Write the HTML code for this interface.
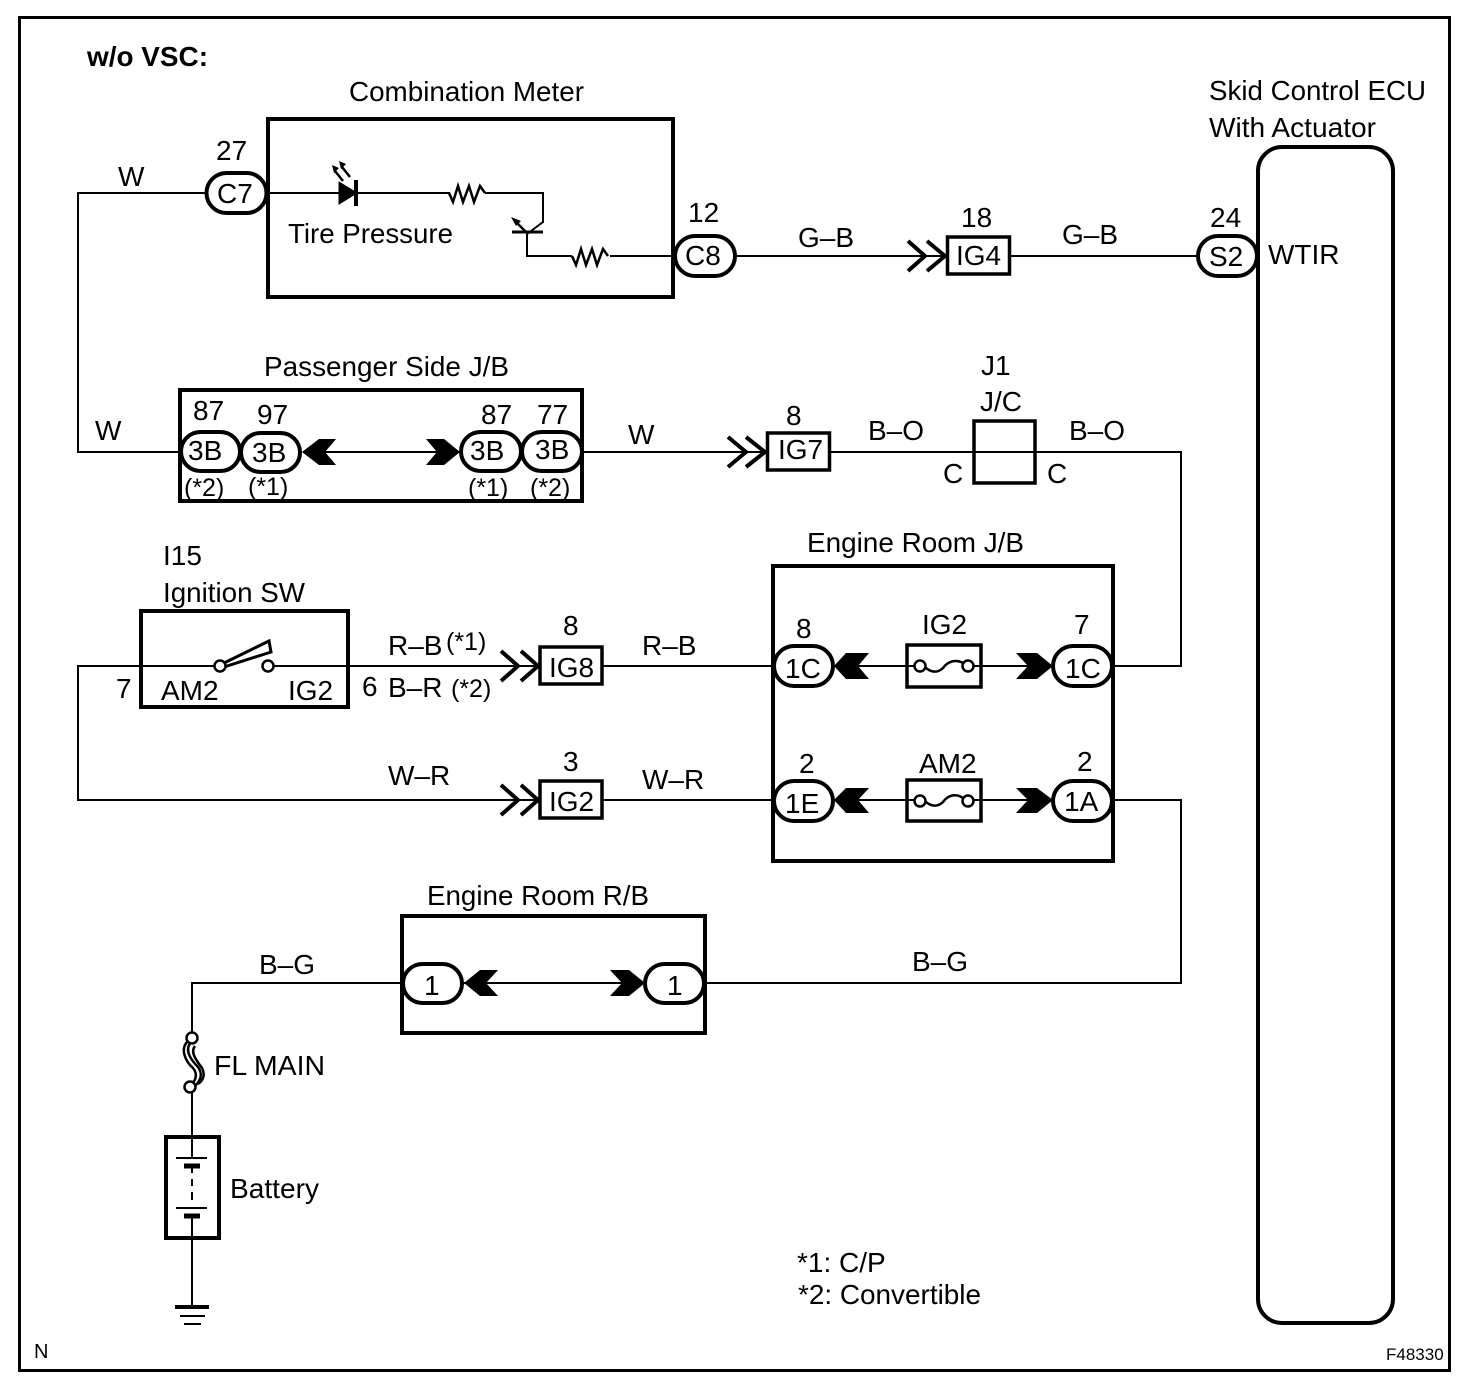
<!DOCTYPE html>
<html><head><meta charset="utf-8"><style>
html,body{margin:0;padding:0;background:#fff}
svg{display:block}
text{font-family:"Liberation Sans",Arial,sans-serif;font-size:28px;fill:#000}
.s{font-size:25px}
.t{font-size:17px}
.l{fill:none;stroke:#000;stroke-width:2}
.b{fill:none;stroke:#000;stroke-width:4}
.p{fill:#fff;stroke:#000;stroke-width:4}
.c{fill:#fff;stroke:#000;stroke-width:2.500}
.a{fill:none;stroke:#000;stroke-width:4}
.w{fill:none;stroke:#000;stroke-width:2.500}
</style></head><body>
<svg width="1472" height="1394" viewBox="0 0 1472 1394" xmlns="http://www.w3.org/2000/svg">
<rect x="0" y="0" width="1472" height="1394" fill="#fff"/>
<rect x="19.500" y="17.500" width="1430" height="1353" class="b" style="stroke-width:3"/>

<!-- wires -->
<path class="l" d="M206 193H78V452H180"/>
<path class="l" d="M267 193H450M485 193H543V222L527 234V256H572M610 256H675"/>
<path class="l" d="M735 256H947M1010 256H1198"/>
<path class="l" d="M582 452H766M830 452H974M1036 452H1181V666H1112"/>
<path class="l" d="M240 452H300M325 452H460"/>
<path class="l" d="M348 666H540M602 666H774"/>
<path class="l" d="M140 666H78V800H540M602 800H774"/>
<path class="l" d="M78 666H215M273 666H348"/>
<path class="l" d="M832 666H1053M832 800H1053"/>
<path class="l" d="M1112 800H1181V983H705"/>
<path class="l" d="M402 983H192V1035M192 1092V1157M192 1168V1173M192 1179V1186M192 1192V1200M192 1218V1305"/>
<path class="l" d="M462 983H645"/>

<!-- boxes -->
<rect x="268" y="119" width="405" height="178" class="b"/>
<rect x="180" y="390" width="402" height="111" class="b"/>
<rect x="141" y="611" width="207" height="96" class="b"/>
<rect x="773" y="566" width="340" height="295" class="b"/>
<rect x="402" y="916" width="303" height="117" class="b"/>
<rect x="166" y="1137" width="53" height="101" class="b"/>
<rect x="1258" y="147" width="135" height="1176" rx="24" class="b"/>

<rect x="947.500" y="237" width="62" height="37" class="p" style="stroke-width:3.500"/>
<rect x="767.500" y="433" width="62" height="37" class="p" style="stroke-width:3.500"/>
<rect x="540" y="647" width="62" height="37" class="p" style="stroke-width:3.500"/>
<rect x="540" y="781" width="62" height="37" class="p" style="stroke-width:3.500"/>
<rect x="974" y="421" width="61" height="62" class="b" style="stroke-width:3.500"/>
<path class="l" d="M974 452H1036"/>
<rect x="907" y="645" width="74" height="42" class="p" style="stroke-width:3.500"/>
<rect x="907" y="780" width="74" height="41" class="p" style="stroke-width:3.500"/>

<!-- pills -->
<rect x="206.500" y="173" width="60" height="40" rx="20" class="p"/>
<rect x="675" y="236" width="60" height="40" rx="20" class="p"/>
<rect x="1198" y="236" width="59" height="40" rx="20" class="p"/>
<rect x="181" y="432" width="59" height="39" rx="19.500" class="p"/>
<rect x="241" y="433" width="59" height="39" rx="19.500" class="p"/>
<rect x="461" y="432" width="60" height="39" rx="19.500" class="p"/>
<rect x="522" y="432" width="60" height="39" rx="19.500" class="p"/>
<rect x="774" y="646" width="59" height="40" rx="20" class="p"/>
<rect x="1053" y="646" width="59" height="40" rx="20" class="p"/>
<rect x="774" y="781" width="59" height="40" rx="20" class="p"/>
<rect x="1053" y="781" width="59" height="40" rx="20" class="p"/>
<rect x="403" y="964" width="59" height="39" rx="19.500" class="p"/>
<rect x="645" y="964" width="59" height="39" rx="19.500" class="p"/>

<!-- solid arrowheads -->
<path d="M302 452L319 439H336L325 452L336 465H319Z"/>
<path d="M426 439H444L460 452L444 465H426L437 452Z"/>
<path d="M834 666L846 653H869L858 666L869 679H846Z"/>
<path d="M1016 653H1037L1053 666L1037 679H1016L1028 666Z"/>
<path d="M834 800L846 788H869L858 800L869 813H846Z"/>
<path d="M1016 788H1037L1053 800L1037 813H1016L1028 800Z"/>
<path d="M464 983L480 970H498L486 983L498 996H480Z"/>
<path d="M610 970H629L645 983L629 996H610L622 983Z"/>

<!-- open double chevrons -->
<path class="a" d="M908 241L925 256L908 271M927 241L945 256L927 271"/>
<path class="a" d="M728 437L746 452L728 467M746 437L765 452L746 467"/>
<path class="a" d="M501 651L518 666L501 681M521 651L538 666L521 681"/>
<path class="a" d="M501 785L518 800L501 815M521 785L538 800L521 815"/>

<!-- LED + resistors + transistor -->
<path d="M339 182L357 193L339 204Z" stroke="#000"/>
<path d="M356 180V206" stroke="#000" stroke-width="4" fill="none"/>
<path class="w" d="M335 171L343 181M342 167L350 177"/>
<path d="M332 165L339 168L334 173ZM339 161L346 164L341 169Z"/>
<path class="w" d="M449 193L453 202L458 186L463 202L469 186L474 202L480 186L485 193"/>
<path class="w" d="M572 256L576 265L581 249L586 265L592 249L597 265L603 249L608 256"/>
<path d="M512 232H543" stroke="#000" stroke-width="3"/>
<path class="w" d="M516 222L526 232"/>
<path d="M511 217L521 221L516 226Z"/>

<!-- fuses -->
<path class="w" d="M925 667C931 673 938 673 943 668C948 661 956 659 963 663"/>
<circle cx="920" cy="666" r="5.500" class="c"/><circle cx="968" cy="666" r="5.500" class="c"/>
<path class="w" d="M925 801C931 807 938 807 943 802C948 795 956 793 963 798"/>
<circle cx="920" cy="801" r="5.500" class="c"/><circle cx="968" cy="801" r="5.500" class="c"/>
<path class="l" d="M907 666H915M973 666H981M907 800H914M974 800H981"/>

<!-- switch -->
<path d="M222 664L269 641L271 652L224 667Z" fill="#fff" stroke="#000" stroke-width="3"/>
<circle cx="220" cy="666" r="5.500" class="c"/><circle cx="268" cy="666" r="5.500" class="c"/>

<!-- FL main fusible link -->
<path class="w" d="M187 1042C180 1050 186 1062 193 1068C198 1074 196 1082 190 1084M191 1042C184 1050 191 1060 198 1067C203 1074 201 1080 195 1086M195 1046C190 1052 196 1060 202 1068C205 1074 204 1080 198 1084"/>
<circle cx="192" cy="1038" r="5.500" class="c"/><circle cx="190" cy="1087" r="5.500" class="c"/>

<!-- battery -->
<path d="M176 1158H207" stroke="#000" stroke-width="2"/>
<path d="M184 1166H200" stroke="#000" stroke-width="5"/>
<path d="M176 1208H207" stroke="#000" stroke-width="2"/>
<path d="M184 1216H200" stroke="#000" stroke-width="5"/>

<!-- ground -->
<path d="M175 1307H209" stroke="#000" stroke-width="4"/>
<path d="M180 1316H205" stroke="#000" stroke-width="2"/>
<path d="M184 1324H201" stroke="#000" stroke-width="2"/>

<!-- text -->
<text x="87" y="66" textLength="121" lengthAdjust="spacingAndGlyphs" style="font-weight:bold">w/o VSC:</text>
<text x="349" y="101" textLength="235" lengthAdjust="spacingAndGlyphs">Combination Meter</text>
<text x="1209" y="100" textLength="217" lengthAdjust="spacingAndGlyphs">Skid Control ECU</text>
<text x="1209" y="137" textLength="167" lengthAdjust="spacingAndGlyphs">With Actuator</text>
<text x="216" y="160">27</text>
<text x="217" y="203">C7</text>
<text x="118" y="186">W</text>
<text x="288" y="243" textLength="165" lengthAdjust="spacingAndGlyphs">Tire Pressure</text>
<text x="688" y="222">12</text>
<text x="685" y="265">C8</text>
<text x="798" y="247">G–B</text>
<text x="961" y="227">18</text>
<text x="956" y="265">IG4</text>
<text x="1062" y="244">G–B</text>
<text x="1210" y="227">24</text>
<text x="1209" y="266">S2</text>
<text x="1268" y="264">WTIR</text>

<text x="264" y="376" textLength="245" lengthAdjust="spacingAndGlyphs">Passenger Side J/B</text>
<text x="95" y="440">W</text>
<text x="193" y="420">87</text>
<text x="257" y="424">97</text>
<text x="481" y="424">87</text>
<text x="537" y="424">77</text>
<text x="188" y="460">3B</text>
<text x="252" y="462">3B</text>
<text x="470" y="460">3B</text>
<text x="535" y="459">3B</text>
<text class="s" x="184" y="496">(*2)</text>
<text class="s" x="248" y="495">(*1)</text>
<text class="s" x="468" y="496">(*1)</text>
<text class="s" x="530" y="496">(*2)</text>
<text x="628" y="444">W</text>
<text x="786" y="425">8</text>
<text x="778" y="459">IG7</text>
<text x="868" y="440">B–O</text>
<text x="981" y="375">J1</text>
<text x="980" y="411">J/C</text>
<text x="1069" y="440">B–O</text>
<text x="943" y="483">C</text>
<text x="1047" y="483">C</text>

<text x="163" y="565">I15</text>
<text x="163" y="602" textLength="142" lengthAdjust="spacingAndGlyphs">Ignition SW</text>
<text x="807" y="552" textLength="217" lengthAdjust="spacingAndGlyphs">Engine Room J/B</text>
<text x="116" y="698">7</text>
<text x="161" y="700">AM2</text>
<text x="288" y="700">IG2</text>
<text x="388" y="655">R–B</text>
<text class="s" x="446" y="650">(*1)</text>
<text x="362" y="696">6</text>
<text x="388" y="697">B–R</text>
<text class="s" x="451" y="697">(*2)</text>
<text x="563" y="635">8</text>
<text x="549" y="677">IG8</text>
<text x="642" y="655">R–B</text>
<text x="796" y="638">8</text>
<text x="785" y="678">1C</text>
<text x="922" y="634">IG2</text>
<text x="1074" y="634">7</text>
<text x="1065" y="678">1C</text>

<text x="388" y="785">W–R</text>
<text x="563" y="771">3</text>
<text x="549" y="811">IG2</text>
<text x="642" y="789">W–R</text>
<text x="799" y="773">2</text>
<text x="785" y="813">1E</text>
<text x="919" y="773">AM2</text>
<text x="1077" y="771">2</text>
<text x="1064" y="811">1A</text>

<text x="427" y="905" textLength="222" lengthAdjust="spacingAndGlyphs">Engine Room R/B</text>
<text x="259" y="974">B–G</text>
<text x="912" y="971">B–G</text>
<text x="424" y="995">1</text>
<text x="667" y="995">1</text>
<text x="214" y="1075" textLength="111" lengthAdjust="spacingAndGlyphs">FL MAIN</text>
<text x="230" y="1198" textLength="89" lengthAdjust="spacingAndGlyphs">Battery</text>
<text x="797" y="1272">*1: C/P</text>
<text x="798" y="1304" textLength="183" lengthAdjust="spacingAndGlyphs">*2: Convertible</text>
<text x="34" y="1358" style="font-size:20px">N</text>
<text class="t" x="1386" y="1360">F48330</text>
</svg>
</body></html>
